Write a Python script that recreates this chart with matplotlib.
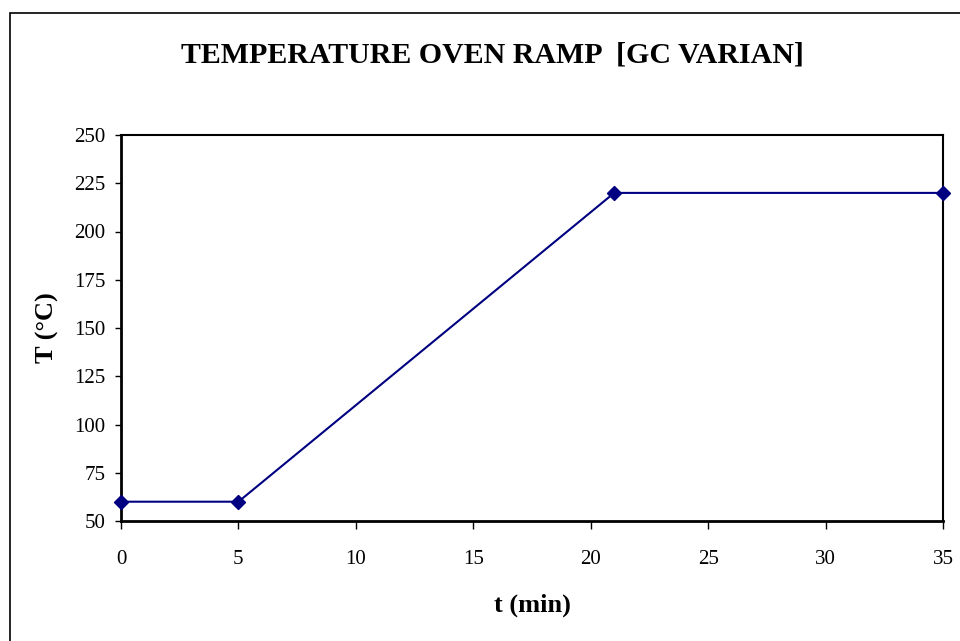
import matplotlib
matplotlib.use("Agg")
import matplotlib.pyplot as plt
from matplotlib.patches import Rectangle

t_min = [0, 5, 21, 35]
temp_c = [60, 60, 220, 220]
x_ticks = [0, 5, 10, 15, 20, 25, 30, 35]
y_ticks = [50, 75, 100, 125, 150, 175, 200, 225, 250]

plt.rcParams['font.family'] = ['Liberation Serif', 'DejaVu Serif']

fig = plt.figure(figsize=(9.6, 6.41), dpi=100)
# outer chart border
fig.patches.append(Rectangle((10/960, -0.05), 1.2, 1 - 13/641 + 0.05,
                             transform=fig.transFigure, fill=False,
                             edgecolor='black', linewidth=1.2))

ax = fig.add_axes([121/960, 1 - 521/641, (943 - 121)/960, (521 - 135)/641])
ax.plot(t_min, temp_c, color='#000080', linewidth=1.5, marker='D',
        markersize=7.5, markerfacecolor='#000080', markeredgecolor='#000080',
        clip_on=False, zorder=3)
ax.set_xlim(0, 35)
ax.set_ylim(50, 250)
ax.set_xticks(x_ticks)
ax.set_yticks(y_ticks)
ax.tick_params(axis='both', direction='out', width=1, labelsize=15,
               colors='black')
ax.tick_params(axis='x', length=6, pad=15)
ax.tick_params(axis='y', length=4, pad=7)
for s in ['left', 'bottom']:
    ax.spines[s].set_linewidth(2)
for s in ['top', 'right']:
    ax.spines[s].set_linewidth(1.5)

fig.text(532/960, 1 - 605/641, 't (min)', ha='center', va='center',
         fontsize=19, fontweight='bold')
fig.text(47/960, 1 - 328/641, 'T (°C)', ha='center', va='center',
         rotation=90, fontsize=19, fontweight='bold')
fig.text(492/960, 1 - 55/641, 'TEMPERATURE OVEN RAMP  [GC VARIAN]',
         ha='center', va='center', fontsize=21.5, fontweight='bold')

fig.savefig('out.png', dpi=100)
